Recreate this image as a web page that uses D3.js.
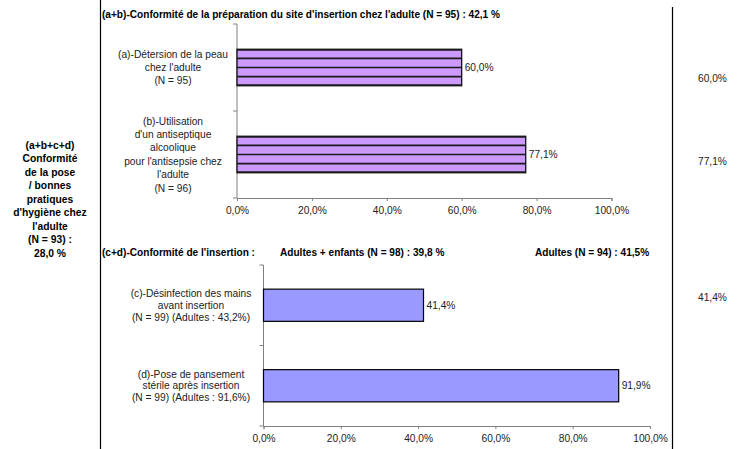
<!DOCTYPE html>
<html><head><meta charset="utf-8">
<script src="https://cdn.jsdelivr.net/npm/d3@7"></script>
<style>body{margin:0;background:#fff}svg{display:block;font-family:"Liberation Sans",Arial,sans-serif}</style>
</head><body><svg id="c" width="747" height="449"></svg>
<script>
const topTitle = "(a+b)-Conformité de la préparation du site d'insertion chez l'adulte (N = 95) : 42,1 %";
const topCategories = [
  ["(a)-Détersion de la peau", "chez l'adulte", "(N = 95)"],
  ["(b)-Utilisation", "d'un antiseptique", "alcoolique", "pour l'antisepsie chez", "l'adulte", "(N = 96)"]
];
const topValues = [60.0, 77.1];
const bottomTitles = ["(c+d)-Conformité de l'insertion :", "Adultes + enfants (N = 98) : 39,8 %", "Adultes (N = 94) : 41,5%"];
const bottomCategories = [
  ["(c)-Désinfection des mains", "avant insertion", "(N = 99) (Adultes : 43,2%)"],
  ["(d)-Pose de pansement", "stérile après insertion", "(N = 99) (Adultes : 91,6%)"]
];
const bottomValues = [41.4, 91.9];
const leftLabel = ["(a+b+c+d)", "Conformité", "de la pose", "/ bonnes", "pratiques", "d'hygiène chez", "l'adulte", "(N = 93) :", "28,0 %"];
const rightLabels = ["60,0%", "77,1%", "41,4%"];
const xTicks = [0, 20, 40, 60, 80, 100];

const loc = d3.formatLocale({decimal: ",", thousands: " ", grouping: [3], currency: ["", "€"]});
const pct = v => loc.format(".1f")(v) + "%";

const FS = 10.2;
const svg = d3.select("#c");

svg.append("line").attr("x1", 100.5).attr("x2", 100.5).attr("y1", 0).attr("y2", 449).attr("stroke", "#000").attr("stroke-width", 1.2);
svg.append("line").attr("x1", 672.5).attr("x2", 672.5).attr("y1", 7).attr("y2", 449).attr("stroke", "#000").attr("stroke-width", 1.2);

const ll = svg.append("text").attr("text-anchor", "middle").attr("font-size", 10.3).attr("font-weight", "bold").attr("fill", "#000");
leftLabel.forEach((t, i) => ll.append("tspan").attr("x", 50).attr("y", 148.5 + i * 13.5).text(t));

const rightY = [81.5, 164.5, 300.5];
rightLabels.forEach((t, i) => svg.append("text").attr("x", 698).attr("y", rightY[i]).attr("font-size", FS).attr("fill", "#222").text(t));

function drawChart(cfg) {
  const x = d3.scaleLinear().domain([0, 100]).range([cfg.x0, cfg.x1]);
  const y = d3.scaleBand().domain(cfg.cats.map((d, i) => i)).range([cfg.y0, cfg.y1]).paddingInner(cfg.pad).paddingOuter(cfg.pad / 2);
  const g = svg.append("g");
  g.append("line").attr("x1", x(0)).attr("x2", x(0)).attr("y1", cfg.y0).attr("y2", cfg.y1).attr("stroke", "#808080");
  const step = (cfg.y1 - cfg.y0) / cfg.cats.length;
  d3.range(cfg.cats.length + 1).forEach(k => {
    g.append("line").attr("x1", x(0) - 4).attr("x2", x(0)).attr("y1", cfg.y0 + k * step).attr("y2", cfg.y0 + k * step).attr("stroke", "#808080");
  });
  const ax = g.append("g").attr("transform", `translate(0,${cfg.y1})`)
    .call(d3.axisBottom(x).tickValues(xTicks).tickSize(3).tickFormat(pct));
  ax.select(".domain").attr("stroke", "#808080");
  ax.selectAll(".tick line").attr("stroke", "#808080");
  ax.selectAll(".tick text").attr("font-size", FS).attr("fill", "#222").attr("font-family", "Liberation Sans, Arial, sans-serif").attr("dy", "0.95em");
  cfg.vals.forEach((v, i) => {
    const by = y(i), bh = y.bandwidth();
    g.append("rect").attr("x", x(0)).attr("y", by).attr("width", x(v) - x(0)).attr("height", bh)
      .attr("fill", cfg.fill).attr("stroke", "#000").attr("stroke-width", 1.2);
    if (cfg.striped) {
      d3.range(1, 4).forEach(k => {
        g.append("line").attr("x1", x(0)).attr("x2", x(v)).attr("y1", by + k * bh / 4).attr("y2", by + k * bh / 4)
          .attr("stroke", "#1a1a1a").attr("stroke-width", 1.6);
      });
      g.append("line").attr("x1", x(0)).attr("x2", x(v)).attr("y1", by + 0.6).attr("y2", by + 0.6).attr("stroke", "#1a1a1a").attr("stroke-width", 1.6);
      g.append("line").attr("x1", x(0)).attr("x2", x(v)).attr("y1", by + bh - 0.6).attr("y2", by + bh - 0.6).attr("stroke", "#1a1a1a").attr("stroke-width", 1.6);
    }
    g.append("text").attr("x", x(v) + 3).attr("y", by + bh / 2).attr("dy", "0.35em").attr("font-size", FS).attr("fill", "#222").text(pct(v));
    const lines = cfg.cats[i];
    const lh = cfg.lh;
    const cy = by + bh / 2;
    const t = g.append("text").attr("text-anchor", "middle").attr("font-size", FS).attr("fill", "#222");
    lines.forEach((s, j) => t.append("tspan").attr("x", cfg.labelX).attr("y", cy + (j - (lines.length - 1) / 2) * lh).attr("dy", "0.35em").text(s));
  });
}

svg.append("text").attr("x", 102).attr("y", 18).attr("font-size", 10.1).attr("font-weight", "bold").attr("fill", "#000").text(topTitle);
const btx = [102, 280, 535];
bottomTitles.forEach((t, i) => svg.append("text").attr("x", btx[i]).attr("y", 255.5).attr("font-size", 10.1).attr("font-weight", "bold").attr("fill", "#000").text(t));

drawChart({x0: 237, x1: 611.5, y0: 24, y1: 198, cats: topCategories, vals: topValues, fill: "#cc99ff", striped: true, pad: 0.58, labelX: 173, lh: 13.4});
drawChart({x0: 263.5, x1: 650, y0: 265, y1: 426, cats: bottomCategories, vals: bottomValues, fill: "#9999ff", striped: false, pad: 0.6, labelX: 191, lh: 11.7});
</script></body></html>
